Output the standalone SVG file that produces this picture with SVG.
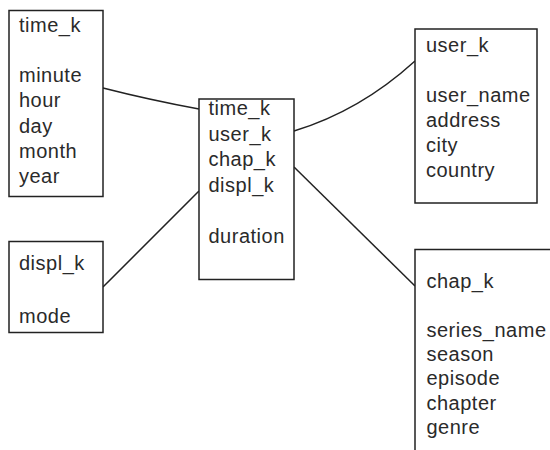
<svg xmlns="http://www.w3.org/2000/svg" width="550" height="450" viewBox="0 0 550 450">
<style>
.box{fill:#fff;stroke:#222;stroke-width:1.5}
.t{font-family:"Liberation Sans",Arial,sans-serif;font-size:20px;letter-spacing:0.5px;fill:#2a2a2a}
.c{fill:none;stroke:#222;stroke-width:1.5}
</style>
<rect width="550" height="450" fill="#fff"/>
<g id="connectors">
<path class="c" d="M103,88 Q150,100 199,109"/>
<path class="c" d="M103,287 L199,191"/>
<path class="c" d="M294,131 Q360,111 415,61"/>
<path class="c" d="M294,167 L415,286"/>
</g>
<g id="time">
<rect class="box" x="9" y="10.5" width="94" height="186"/>
<text class="t" x="19" y="32">time_k</text>
<text class="t" x="19" y="82">minute</text>
<text class="t" x="19" y="107.3">hour</text>
<text class="t" x="19" y="132.6">day</text>
<text class="t" x="19" y="157.9">month</text>
<text class="t" x="19" y="183.2">year</text>
</g>
<g id="displ">
<rect class="box" x="9" y="241.5" width="94" height="91"/>
<text class="t" x="19" y="270">displ_k</text>
<text class="t" x="19" y="323">mode</text>
</g>
<g id="fact">
<rect class="box" x="199" y="99" width="95" height="180.5"/>
<text class="t" x="208.5" y="115">time_k</text>
<text class="t" x="208.5" y="140.5">user_k</text>
<text class="t" x="208.5" y="166">chap_k</text>
<text class="t" x="208.5" y="191.5">displ_k</text>
<text class="t" x="208.5" y="242.5">duration</text>
</g>
<g id="user">
<rect class="box" x="415" y="29" width="122" height="174"/>
<text class="t" x="426" y="51.7">user_k</text>
<text class="t" x="426" y="101.7">user_name</text>
<text class="t" x="426" y="126.7">address</text>
<text class="t" x="426" y="151.7">city</text>
<text class="t" x="426" y="176.7">country</text>
</g>
<g id="chap">
<rect class="box" x="415" y="249.5" width="200" height="250"/>
<text class="t" x="426.5" y="288">chap_k</text>
<text class="t" x="426.5" y="336.5">series_name</text>
<text class="t" x="426.5" y="360.5">season</text>
<text class="t" x="426.5" y="385">episode</text>
<text class="t" x="426.5" y="409.5">chapter</text>
<text class="t" x="426.5" y="434">genre</text>
</g>
</svg>
